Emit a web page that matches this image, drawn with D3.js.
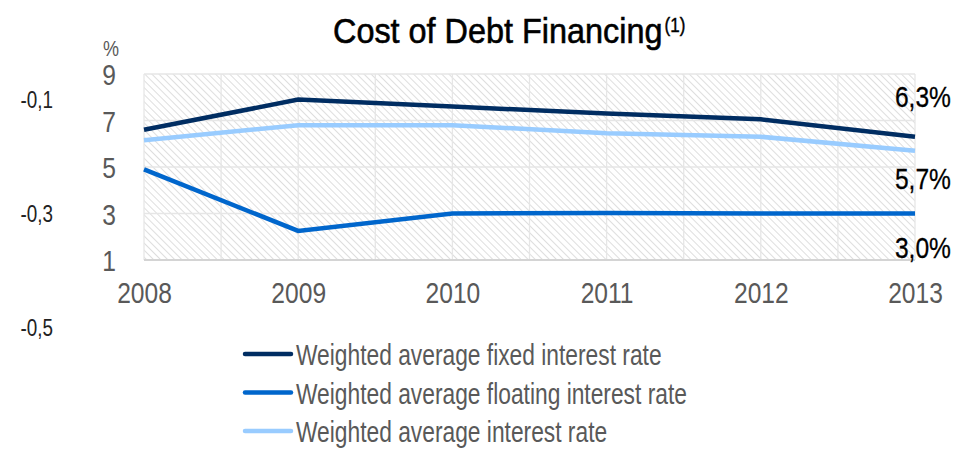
<!DOCTYPE html>
<html>
<head>
<meta charset="utf-8">
<script src="https://cdn.jsdelivr.net/npm/d3@7"></script>
<style>
  body { margin: 0; background: #fff; }
  svg text { font-family: "Liberation Sans", Arial, sans-serif; }
</style>
</head>
<body>
<svg id="chart" width="962" height="449"></svg>
<script>
// DATA
const years = ["2008", "2009", "2010", "2011", "2012", "2013"];
const fixedRate = [6.6, 7.9, 7.6, 7.3, 7.05, 6.3];
const floatingRate = [4.9, 2.25, 3.0, 3.02, 3.0, 3.0];
const averageRate = [6.15, 6.8, 6.8, 6.45, 6.3, 5.7];
const seriesNames = [
  "Weighted average fixed interest rate",
  "Weighted average floating interest rate",
  "Weighted average interest rate",
];
const seriesColors = ["#002d62", "#0066cc", "#99ccff"];
const yTicks = [1, 3, 5, 7, 9];
const ghostTicks = [-0.1, -0.3, -0.5];
const endLabels = ["6,3%", "5,7%", "3,0%"];

// narrow font imitation (no Arial Narrow installed): squeeze text horizontally
function condense(k) {
  return function (sel) {
    sel.each(function () {
      const t = d3.select(this);
      const x = +t.attr("x") || 0;
      const tr = t.attr("transform") || "";
      t.attr("x", x / k).attr("transform", `${tr} scale(${k},1)`);
    });
  };
}

// CANVAS SETUP
const svg = d3.select("#chart");
const margin = { top: 74, left: 144, right: 47, bottom: 189 };
const width = 962 - margin.left - margin.right,
  height = 449 - margin.top - margin.bottom;

const xScale = d3.scalePoint().domain(years).range([0, width]);
const yScale = d3.scaleLinear().domain([1, 9]).range([height, 0]);
const ghostScale = d3.scaleLinear().domain([-0.1, -0.5]).range([100, 328]);

// hatch pattern
const defs = svg.append("defs");
const pat = defs
  .append("pattern")
  .attr("id", "hatch")
  .attr("patternUnits", "userSpaceOnUse")
  .attr("width", 5)
  .attr("height", 5)
  .attr("patternTransform", "rotate(-45)");
pat.append("line")
  .attr("x1", 0).attr("y1", 0).attr("x2", 0).attr("y2", 5)
  .attr("stroke", "#d6d6d6")
  .attr("stroke-width", 1.6);

const g = svg.append("g").attr("transform", `translate(${margin.left},${margin.top})`);

g.append("rect")
  .attr("width", width)
  .attr("height", height)
  .attr("fill", "url(#hatch)");

// grid
const halfSteps = d3.range(0, years.length - 0.5, 0.5);
const xGrid = d3.scaleLinear().domain([0, years.length - 1]).range([0, width]);
g.append("g")
  .selectAll("line")
  .data(halfSteps)
  .join("line")
  .attr("x1", (d) => xGrid(d))
  .attr("x2", (d) => xGrid(d))
  .attr("y1", 0)
  .attr("y2", height)
  .attr("stroke", "#e6e6e6")
  .attr("stroke-width", 1.3);

g.append("g")
  .selectAll("line")
  .data(yTicks)
  .join("line")
  .attr("x1", 0)
  .attr("x2", width)
  .attr("y1", (d) => yScale(d))
  .attr("y2", (d) => yScale(d))
  .attr("stroke", (d) => (d === 1 ? "#d4d4d4" : "#e6e6e6"))
  .attr("stroke-width", (d) => (d === 1 ? 2 : 1.3));

// y axis labels
const gy = g.append("g").call(d3.axisLeft(yScale).tickValues(yTicks).tickSize(0).tickPadding(28));
gy.select(".domain").remove();
gy.selectAll("text")
  .attr("fill", "#595959")
  .attr("dy", "0.36em")
  .style("font-size", "30px")
  .style("font-family", "Liberation Sans, sans-serif")
  .call(condense(0.82));

g.append("text")
  .attr("x", -33)
  .attr("y", -18)
  .attr("text-anchor", "middle")
  .attr("fill", "#595959")
  .style("font-size", "22px")
  .text("%")
  .call(condense(0.82));

// x axis labels
const gx = g.append("g")
  .attr("transform", `translate(0,${height})`)
  .call(d3.axisBottom(xScale).tickSize(0).tickPadding(28));
gx.select(".domain").remove();
gx.selectAll("text")
  .attr("fill", "#595959")
  .attr("dy", "0.5em")
  .style("font-size", "30px")
  .style("font-family", "Liberation Sans, sans-serif")
  .call(condense(0.82));

// ghost secondary axis
svg.append("g")
  .selectAll("text")
  .data(ghostTicks)
  .join("text")
  .attr("x", 53)
  .attr("y", (d) => ghostScale(d))
  .attr("dy", "0.36em")
  .attr("text-anchor", "end")
  .attr("fill", "#222")
  .style("font-size", "23px")
  .text((d) => d3.format(".1f")(d).replace(".", ",").replace("−", "-"))
  .call(condense(0.82));

// lines
const series = [fixedRate, floatingRate, averageRate];
const line = d3.line()
  .x((d, i) => xScale(years[i]))
  .y((d) => yScale(d));

const drawOrder = [1, 2, 0];
g.append("g")
  .selectAll("path")
  .data(drawOrder)
  .join("path")
  .attr("d", (k) => line(series[k]))
  .attr("fill", "none")
  .attr("stroke", (k) => seriesColors[k])
  .attr("stroke-width", 4.5);

// end labels
const endBaseline = [107, 189, 258];
g.append("g")
  .selectAll("text")
  .data(endLabels)
  .join("text")
  .attr("x", width + 36)
  .attr("y", (d, i) => endBaseline[i] - margin.top)
  .attr("text-anchor", "end")
  .attr("fill", "#000")
  .style("font-size", "30px")
  .style("stroke", "#000")
  .style("stroke-width", 0.3)
  .text((d) => d)
  .call(condense(0.82));

// title
const TITLE_K = 0.9;
const title = svg.append("text")
  .attr("x", 333)
  .attr("y", 43)
  .attr("fill", "#000")
  .style("font-size", "36px")
  .style("stroke", "#000")
  .style("stroke-width", 0.6)
  .text("Cost of Debt Financing");
const titleEnd = 333 + title.node().getComputedTextLength() * TITLE_K;
title.call(condense(TITLE_K));
svg.append("text")
  .attr("x", titleEnd + 2)
  .attr("y", 32)
  .attr("fill", "#000")
  .style("font-size", "20px")
  .style("stroke", "#000")
  .style("stroke-width", 0.4)
  .text("(1)")
  .call(condense(0.85));

// legend
const legend = svg.append("g").attr("transform", "translate(245,354)");
const li = legend.selectAll("g")
  .data(seriesNames)
  .join("g")
  .attr("transform", (d, i) => `translate(0,${i * 38.5})`);
li.append("line")
  .attr("x1", 0).attr("x2", 46)
  .attr("stroke", (d, i) => seriesColors[i])
  .attr("stroke-width", 4.5)
  .attr("stroke-linecap", "round");
li.append("text")
  .attr("x", 51)
  .attr("y", 11)
  .attr("fill", "#595959")
  .style("font-size", "30px")
  .text((d) => d)
  .call(condense(0.76));
</script>
</body>
</html>
